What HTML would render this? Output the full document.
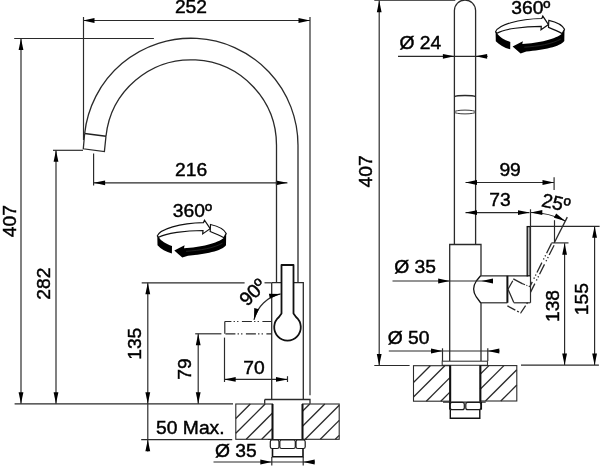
<!DOCTYPE html>
<html><head><meta charset="utf-8"><style>
html,body{margin:0;padding:0;background:#fff;}
svg{display:block;}
text{font-family:"Liberation Sans",sans-serif;fill:#000;stroke:#000;stroke-width:0.45px;}
svg{will-change:transform;}
</style></head><body>
<svg width="600" height="467" viewBox="0 0 600 467">
<rect width="600" height="467" fill="#fff"/>
<line x1="83" y1="20.5" x2="310" y2="20.5" stroke="#2a2a2a" stroke-width="1.18"/>
<polygon points="83.00,20.50 94.50,18.10 94.50,22.90" fill="#000" stroke="none" stroke-width="1"/>
<polygon points="310.00,20.50 298.50,22.90 298.50,18.10" fill="#000" stroke="none" stroke-width="1"/>
<text id="t0" x="174.9" y="13.0" font-size="19.25" text-anchor="start" >252</text>
<line x1="83.5" y1="17" x2="83.5" y2="140" stroke="#2a2a2a" stroke-width="1.18"/>
<line x1="310" y1="17" x2="310" y2="395.3" stroke="#2a2a2a" stroke-width="1.18"/>
<line x1="21" y1="38.5" x2="21" y2="403.8" stroke="#2a2a2a" stroke-width="1.18"/>
<polygon points="21.00,38.50 23.40,50.00 18.60,50.00" fill="#000" stroke="none" stroke-width="1"/>
<polygon points="21.00,403.80 18.60,392.30 23.40,392.30" fill="#000" stroke="none" stroke-width="1"/>
<line x1="14.2" y1="38.5" x2="153.9" y2="38.5" stroke="#2a2a2a" stroke-width="1.18"/>
<line x1="14.6" y1="403.8" x2="233" y2="403.8" stroke="#2a2a2a" stroke-width="1.18"/>
<text id="t1" x="15.9" y="237.2" font-size="19.25" text-anchor="start" transform="rotate(-90 15.9 237.2)" >407</text>
<line x1="56" y1="150.3" x2="56" y2="403.8" stroke="#2a2a2a" stroke-width="1.18"/>
<polygon points="56.00,150.30 58.40,161.80 53.60,161.80" fill="#000" stroke="none" stroke-width="1"/>
<polygon points="56.00,403.80 53.60,392.30 58.40,392.30" fill="#000" stroke="none" stroke-width="1"/>
<line x1="53" y1="150.3" x2="83" y2="150.3" stroke="#2a2a2a" stroke-width="1.18"/>
<text id="t2" x="49.6" y="299.75" font-size="19.25" text-anchor="start" transform="rotate(-90 49.6 299.75)" >282</text>
<line x1="93.6" y1="182.8" x2="287.4" y2="182.8" stroke="#2a2a2a" stroke-width="1.18"/>
<polygon points="93.60,182.80 105.10,180.40 105.10,185.20" fill="#000" stroke="none" stroke-width="1"/>
<polygon points="287.40,182.80 275.90,185.20 275.90,180.40" fill="#000" stroke="none" stroke-width="1"/>
<line x1="93.6" y1="153.5" x2="93.6" y2="185.5" stroke="#2a2a2a" stroke-width="1.18"/>
<text id="t3" x="175.1" y="175.85" font-size="19.25" text-anchor="start" >216</text>
<line x1="147.8" y1="282.8" x2="147.8" y2="451.5" stroke="#2a2a2a" stroke-width="1.18"/>
<polygon points="147.80,282.80 150.20,294.30 145.40,294.30" fill="#000" stroke="none" stroke-width="1"/>
<polygon points="147.80,403.80 145.40,392.30 150.20,392.30" fill="#000" stroke="none" stroke-width="1"/>
<polygon points="147.80,439.80 150.20,451.30 145.40,451.30" fill="#000" stroke="none" stroke-width="1"/>
<line x1="141.7" y1="282.8" x2="244.6" y2="282.8" stroke="#2a2a2a" stroke-width="1.18"/>
<line x1="264.5" y1="282.8" x2="271.6" y2="282.8" stroke="#2a2a2a" stroke-width="1.18"/>
<text id="t4" x="140.75" y="359.8" font-size="19.25" text-anchor="start" transform="rotate(-90 140.75 359.8)" >135</text>
<line x1="198.2" y1="333.8" x2="198.2" y2="403.8" stroke="#2a2a2a" stroke-width="1.18"/>
<polygon points="198.20,333.80 200.60,345.30 195.80,345.30" fill="#000" stroke="none" stroke-width="1"/>
<polygon points="198.20,403.80 195.80,392.30 200.60,392.30" fill="#000" stroke="none" stroke-width="1"/>
<line x1="195.2" y1="333.8" x2="221.4" y2="333.8" stroke="#2a2a2a" stroke-width="1.18"/>
<text id="t5" x="191.45" y="379.65" font-size="19.25" text-anchor="start" transform="rotate(-90 191.45 379.65)" >79</text>
<line x1="224.2" y1="379.4" x2="287.5" y2="379.4" stroke="#2a2a2a" stroke-width="1.18"/>
<polygon points="224.20,379.40 235.70,377.00 235.70,381.80" fill="#000" stroke="none" stroke-width="1"/>
<polygon points="287.50,379.40 276.00,381.80 276.00,377.00" fill="#000" stroke="none" stroke-width="1"/>
<line x1="224.5" y1="337.6" x2="224.5" y2="382" stroke="#2a2a2a" stroke-width="1.18"/>
<line x1="287.5" y1="376.2" x2="287.5" y2="382" stroke="#2a2a2a" stroke-width="1.18"/>
<text id="t6" x="243.35" y="373.6" font-size="19.25" text-anchor="start" >70</text>
<line x1="141.2" y1="439.6" x2="232.2" y2="439.6" stroke="#2a2a2a" stroke-width="1.18"/>
<text id="t7" x="156.1" y="433.7" font-size="19.25" text-anchor="start" >50 Max.</text>
<line x1="213.5" y1="462" x2="315" y2="462" stroke="#2a2a2a" stroke-width="1.18"/>
<line x1="271.8" y1="457" x2="271.8" y2="465.5" stroke="#2a2a2a" stroke-width="1.18"/>
<line x1="303.2" y1="457" x2="303.2" y2="465.5" stroke="#2a2a2a" stroke-width="1.18"/>
<polygon points="271.80,462.00 260.30,464.40 260.30,459.60" fill="#000" stroke="none" stroke-width="1"/>
<polygon points="303.20,462.00 314.70,459.60 314.70,464.40" fill="#000" stroke="none" stroke-width="1"/>
<text id="t8" x="214.9" y="457.2" font-size="19.25" text-anchor="start" >Ø 35</text>
<path d="M 84.65 133.50 A 107 107 0 0 1 298 145.3 L 298 282.5" fill="none" stroke="#2a2a2a" stroke-width="1.3" />
<path d="M 105.98 136.30 A 85.5 85.5 0 0 1 276.5 145.3 L 276.5 282.5" fill="none" stroke="#2a2a2a" stroke-width="1.3" />
<path d="M 84.65 133.50 L 83.3 148.8 L 104.4 151.6 L 105.98 136.30" fill="none" stroke="#2a2a2a" stroke-width="1.3" />
<line x1="84.65264460269827" y1="133.5" x2="105.97500367538967" y2="136.3" stroke="#222" stroke-width="1.4"/>
<path d="M 271.7 282.7 L 303.3 282.7 L 303.3 399.3" fill="none" stroke="#2a2a2a" stroke-width="1.3" />
<line x1="271.7" y1="282.7" x2="271.7" y2="399.3" stroke="#2a2a2a" stroke-width="1.3"/>
<path d="M 264.7 399.5 L 310 399.5 L 310 403.8 M 264.7 399.5 L 264.7 403.8" fill="none" stroke="#2a2a2a" stroke-width="1.3" />
<path d="M 281.5 313.5 L 281.5 265 L 293.5 265 L 293.5 313.5 L 296 317 A 13.3 13.3 0 1 1 279 317 Z" fill="#fff" stroke="#111" stroke-width="1.8" stroke-linejoin="round"/>
<line x1="224.8" y1="321.5" x2="271.6" y2="321.5" stroke="#2a2a2a" stroke-width="1.18" stroke-dasharray="10,2.2,1.3,2.2,1.3,3.5" stroke-dashoffset="3.4"/>
<line x1="224.8" y1="333.8" x2="271.6" y2="333.8" stroke="#2a2a2a" stroke-width="1.18" stroke-dasharray="10,2.2,1.3,2.2,1.3,3.5" stroke-dashoffset="19.9"/>
<line x1="224.8" y1="321.5" x2="224.8" y2="333.8" stroke="#2a2a2a" stroke-width="1.18"/>
<path d="M 280.64 293.89 A 34.4 34.4 0 0 0 253.98 319.86" fill="none" stroke="#2a2a2a" stroke-width="1.18" />
<polygon points="280.64,293.89 269.85,298.54 268.89,293.83" fill="#000" stroke="none" stroke-width="1"/>
<polygon points="253.98,319.86 254.23,308.12 258.91,309.20" fill="#000" stroke="none" stroke-width="1"/>
<text id="t9" x="257.3" y="296.9" font-size="19.25" text-anchor="middle" transform="rotate(-45 257.3 296.9)" >90º</text>
<rect x="235.8" y="404" width="36.69999999999999" height="35.30000000000001" fill="none" stroke="#2a2a2a" stroke-width="1.1"/>
<line x1="235.8" y1="418.49999999999994" x2="250.29999999999995" y2="404" stroke="#2a2a2a" stroke-width="1.3"/>
<line x1="235.8" y1="433.3" x2="265.1" y2="404" stroke="#2a2a2a" stroke-width="1.3"/>
<line x1="246.2" y1="439.3" x2="272.5" y2="413.0" stroke="#2a2a2a" stroke-width="1.3"/>
<line x1="261.7" y1="439.3" x2="272.5" y2="428.5" stroke="#2a2a2a" stroke-width="1.3"/>
<rect x="302.5" y="404" width="36.69999999999999" height="35.30000000000001" fill="none" stroke="#2a2a2a" stroke-width="1.1"/>
<line x1="302.5" y1="411.20000000000005" x2="309.70000000000005" y2="404" stroke="#2a2a2a" stroke-width="1.3"/>
<line x1="302.5" y1="426.29999999999995" x2="324.79999999999995" y2="404" stroke="#2a2a2a" stroke-width="1.3"/>
<line x1="305.2" y1="439.3" x2="339.2" y2="405.3" stroke="#2a2a2a" stroke-width="1.3"/>
<line x1="320.3" y1="439.3" x2="339.2" y2="420.40000000000003" stroke="#2a2a2a" stroke-width="1.3"/>
<line x1="335.3" y1="439.3" x2="339.2" y2="435.40000000000003" stroke="#2a2a2a" stroke-width="1.3"/>
<line x1="272.5" y1="404" x2="272.5" y2="439.5" stroke="#111" stroke-width="2"/>
<line x1="302.5" y1="404" x2="302.5" y2="439.5" stroke="#111" stroke-width="2"/>
<line x1="268" y1="439.5" x2="307" y2="439.5" stroke="#2a2a2a" stroke-width="1.2"/>
<rect x="270.3" y="440" width="8.7" height="8.5" rx="1.8" fill="#fff" stroke="#1a1a1a" stroke-width="1.2"/>
<rect x="279.8" y="440" width="15.5" height="8.5" rx="1.8" fill="#fff" stroke="#1a1a1a" stroke-width="1.2"/>
<rect x="296" y="440" width="9.2" height="8.5" rx="1.8" fill="#fff" stroke="#1a1a1a" stroke-width="1.2"/>
<path d="M 272.5 448.5 L 272.5 456.8 L 303 456.8 L 303 448.5" fill="none" stroke="#111" stroke-width="1.6" />
<g transform="translate(0 0)"><path d="M 157.3 235.9 C 160 229 180 223 203.5 222.6 L 204.5 220.2 L 210.2 228.7 L 202.7 233.9 L 203 230.5 C 185 230.6 166 233 158.7 237.3 Z" fill="#fff" stroke="#111" stroke-width="1.2"/><path d="M 210.5 224.5 C 217 226 224 229 226.2 233.4 L 223.9 237.7 C 219 235 214 233 210.2 231.5 Z" fill="#fff" stroke="#111" stroke-width="1.2"/><path d="M 226.2 233.4 L 226 245.2 C 222 251 205 254 188 255.7 L 182.3 257.6 L 174.3 250.5 L 184.6 245.3 L 184 248.2 C 200 247.5 218 243 223.9 237.7 Z" fill="#000"/><path d="M 157.3 235.9 L 157.5 245.3 C 161 249 166 252 171.9 253.4 L 172 246 C 166 244 161 241 158.7 237.3 Z" fill="#000"/><path d="M 186 251.3 C 200 250.5 214 248 222.5 243.2" fill="none" stroke="#333" stroke-width="0.7"/></g>
<text id="t10" x="172.8" y="217.0" font-size="19.25" text-anchor="start" >360º</text>
<line x1="374.3" y1="0.5" x2="455.3" y2="0.5" stroke="#555" stroke-width="1.18"/>
<line x1="379.2" y1="0.5" x2="379.2" y2="365.5" stroke="#2a2a2a" stroke-width="1.18"/>
<polygon points="379.20,0.80 381.60,12.30 376.80,12.30" fill="#000" stroke="none" stroke-width="1"/>
<polygon points="379.20,365.50 376.80,354.00 381.60,354.00" fill="#000" stroke="none" stroke-width="1"/>
<line x1="374.3" y1="365.5" x2="409.6" y2="365.5" stroke="#2a2a2a" stroke-width="1.18"/>
<text id="t11" x="372.3" y="187.5" font-size="19.25" text-anchor="start" transform="rotate(-90 372.3 187.5)" >407</text>
<path d="M 454.4 244.5 L 454.4 10.6 A 10.6 10.6 0 0 1 475.6 10.6 L 475.6 244.5" fill="none" stroke="#2a2a2a" stroke-width="1.3" />
<path d="M 454.4 96.6 C 457 95.1, 473 95.1, 475.6 96.6" fill="none" stroke="#2a2a2a" stroke-width="1.3" />
<ellipse cx="465" cy="112" rx="10.6" ry="1.9" fill="none" stroke="#3a3a3a" stroke-width="1"/>
<path d="M 449.7 361 L 449.7 244.5 L 481 244.5 L 481 275.5" fill="none" stroke="#2a2a2a" stroke-width="1.3" />
<path d="M 481 302.9 L 481 361" fill="none" stroke="#2a2a2a" stroke-width="1.3" />
<path d="M 480.8 275.5 L 476.3 281 Q 471 289 476.3 297 L 480.8 303" fill="none" stroke="#111" stroke-width="1.3" />
<line x1="481" y1="275.8" x2="528" y2="275.8" stroke="#2a2a2a" stroke-width="1.2"/>
<line x1="481" y1="302.8" x2="507.4" y2="302.8" stroke="#2a2a2a" stroke-width="1.2"/>
<line x1="513.8" y1="302.8" x2="530.3" y2="302.8" stroke="#2a2a2a" stroke-width="1.2"/>
<line x1="507.4" y1="275.8" x2="507.4" y2="302.8" stroke="#111" stroke-width="2"/>
<rect x="527.2" y="226.6" width="3.1" height="49.2" fill="#bbb" stroke="#111" stroke-width="1.3"/>
<line x1="530.5" y1="209.3" x2="530.5" y2="302.8" stroke="#2a2a2a" stroke-width="1.2"/>
<line x1="530.5" y1="226.4" x2="599.6" y2="226.4" stroke="#2a2a2a" stroke-width="1.18"/>
<path d="M 522.7 283.8 L 513.3 278.9 M 512.8 280.8 L 508 289.2 L 513.8 302.5" fill="none" stroke="#2a2a2a" stroke-width="1.3" />
<path d="M 522.7 283.8 L 530 286.8" fill="none" stroke="#2a2a2a" stroke-width="1.18" stroke-dasharray="2.5,1.5,1,1.5"/>
<path d="M 507.4 305.9 L 520.7 313 L 527.6 302.5" fill="none" stroke="#2a2a2a" stroke-width="1.3" stroke-dasharray="9,2,2,2"/>
<line x1="567.3" y1="217.1" x2="554.3" y2="242.7" stroke="#2a2a2a" stroke-width="1.3"/>
<line x1="551.5" y1="243.4" x2="529.9" y2="286.6" stroke="#2a2a2a" stroke-width="1.3" stroke-dasharray="11,2.2,1.3,2.2,1.3,3.5" stroke-dashoffset="0"/>
<line x1="555" y1="243.4" x2="530.6" y2="292.1" stroke="#2a2a2a" stroke-width="1.3" stroke-dasharray="11,2.2,1.3,2.2,1.3,3.5" stroke-dashoffset="-2"/>
<line x1="554.5" y1="220.2" x2="554.5" y2="242.8" stroke="#2a2a2a" stroke-width="1.18"/>
<line x1="551.4" y1="242.9" x2="568.5" y2="242.9" stroke="#2a2a2a" stroke-width="1.18"/>
<path d="M 530.8 212.5 A 75 75 0 0 1 565.25 220.93" fill="none" stroke="#2a2a2a" stroke-width="1.18" />
<polygon points="530.80,212.50 542.30,210.10 542.30,214.90" fill="#000" stroke="none" stroke-width="1"/>
<polygon points="565.25,220.93 553.94,217.73 556.17,213.48" fill="#000" stroke="none" stroke-width="1"/>
<text id="t12" x="554.7" y="209.2" font-size="19.25" text-anchor="middle" transform="rotate(12 554.7 209.2)" >25º</text>
<line x1="398" y1="56.3" x2="487.6" y2="56.3" stroke="#2a2a2a" stroke-width="1.18"/>
<polygon points="454.40,56.30 442.90,58.70 442.90,53.90" fill="#000" stroke="none" stroke-width="1"/>
<polygon points="475.60,56.30 487.10,53.90 487.10,58.70" fill="#000" stroke="none" stroke-width="1"/>
<text id="t13" x="399.45" y="48.75" font-size="19.25" text-anchor="start" >Ø 24</text>
<line x1="392.5" y1="281" x2="492.8" y2="281" stroke="#2a2a2a" stroke-width="1.18"/>
<polygon points="449.70,281.00 438.20,283.40 438.20,278.60" fill="#000" stroke="none" stroke-width="1"/>
<polygon points="481.50,281.00 493.00,278.60 493.00,283.40" fill="#000" stroke="none" stroke-width="1"/>
<text id="t14" x="394.3" y="273.25" font-size="19.25" text-anchor="start" >Ø 35</text>
<line x1="388.8" y1="351" x2="499.6" y2="351" stroke="#2a2a2a" stroke-width="1.18"/>
<polygon points="442.50,351.00 431.00,353.40 431.00,348.60" fill="#000" stroke="none" stroke-width="1"/>
<polygon points="487.80,351.00 499.30,348.60 499.30,353.40" fill="#000" stroke="none" stroke-width="1"/>
<line x1="442.5" y1="348.3" x2="442.5" y2="361" stroke="#2a2a2a" stroke-width="1.18"/>
<line x1="487.8" y1="348.3" x2="487.8" y2="361" stroke="#2a2a2a" stroke-width="1.18"/>
<text id="t15" x="387.8" y="344.05" font-size="19.25" text-anchor="start" >Ø 50</text>
<rect x="442.2" y="361.2" width="45.3" height="4.1" fill="none" stroke="#3a3a3a" stroke-width="1.1"/>
<rect x="413.5" y="365.7" width="36.39999999999998" height="35.5" fill="none" stroke="#2a2a2a" stroke-width="1.1"/>
<line x1="413.5" y1="382.5" x2="430.3" y2="365.7" stroke="#2a2a2a" stroke-width="1.3"/>
<line x1="413.5" y1="397.0" x2="444.8" y2="365.7" stroke="#2a2a2a" stroke-width="1.3"/>
<line x1="426.3" y1="401.2" x2="449.9" y2="377.6" stroke="#2a2a2a" stroke-width="1.3"/>
<line x1="440.8" y1="401.2" x2="449.9" y2="392.1" stroke="#2a2a2a" stroke-width="1.3"/>
<rect x="480.2" y="365.6" width="36.599999999999966" height="35.39999999999998" fill="none" stroke="#2a2a2a" stroke-width="1.1"/>
<line x1="480.2" y1="374.3" x2="488.9" y2="365.6" stroke="#2a2a2a" stroke-width="1.3"/>
<line x1="480.2" y1="389.3" x2="503.9" y2="365.6" stroke="#2a2a2a" stroke-width="1.3"/>
<line x1="485.5" y1="401" x2="516.8" y2="369.70000000000005" stroke="#2a2a2a" stroke-width="1.3"/>
<line x1="500.79999999999995" y1="401" x2="516.8" y2="385.0" stroke="#2a2a2a" stroke-width="1.3"/>
<line x1="450.2" y1="365.3" x2="450.2" y2="402.2" stroke="#111" stroke-width="2"/>
<line x1="480.4" y1="365.3" x2="480.4" y2="402.2" stroke="#111" stroke-width="2"/>
<line x1="443" y1="402.2" x2="485.7" y2="402.2" stroke="#2a2a2a" stroke-width="1.2"/>
<path d="M 450.3 409.7 L 450.3 418.3 L 479.8 418.3 L 479.8 409.7" fill="none" stroke="#111" stroke-width="1.4" />
<rect x="450.2" y="402.4" width="14.1" height="7.3" rx="2" fill="#fff" stroke="#1a1a1a" stroke-width="1.2"/>
<rect x="465.8" y="402.4" width="15.1" height="7.3" rx="2" fill="#fff" stroke="#1a1a1a" stroke-width="1.2"/>
<line x1="449.8" y1="402" x2="449.8" y2="409.7" stroke="#111" stroke-width="1.5"/>
<line x1="481.3" y1="402" x2="481.3" y2="409.7" stroke="#111" stroke-width="1.5"/>
<line x1="465.5" y1="182.5" x2="554" y2="182.5" stroke="#2a2a2a" stroke-width="1.18"/>
<polygon points="465.50,182.50 477.00,180.10 477.00,184.90" fill="#000" stroke="none" stroke-width="1"/>
<polygon points="554.00,182.50 542.50,184.90 542.50,180.10" fill="#000" stroke="none" stroke-width="1"/>
<line x1="554.1" y1="177.3" x2="554.1" y2="189.9" stroke="#2a2a2a" stroke-width="1.18"/>
<text id="t16" x="499.4" y="175.75" font-size="19.25" text-anchor="start" >99</text>
<line x1="465.5" y1="212.6" x2="529.5" y2="212.6" stroke="#2a2a2a" stroke-width="1.18"/>
<polygon points="465.50,212.60 477.00,210.20 477.00,215.00" fill="#000" stroke="none" stroke-width="1"/>
<polygon points="529.50,212.60 518.00,215.00 518.00,210.20" fill="#000" stroke="none" stroke-width="1"/>
<text id="t17" x="489.3" y="205.55" font-size="19.25" text-anchor="start" >73</text>
<line x1="594.6" y1="226.3" x2="594.6" y2="364.9" stroke="#2a2a2a" stroke-width="1.18"/>
<polygon points="594.60,226.30 597.00,237.80 592.20,237.80" fill="#000" stroke="none" stroke-width="1"/>
<polygon points="594.60,364.90 592.20,353.40 597.00,353.40" fill="#000" stroke="none" stroke-width="1"/>
<line x1="564.6" y1="243.2" x2="564.6" y2="364.9" stroke="#2a2a2a" stroke-width="1.18"/>
<polygon points="564.60,243.20 567.00,254.70 562.20,254.70" fill="#000" stroke="none" stroke-width="1"/>
<polygon points="564.60,364.90 562.20,353.40 567.00,353.40" fill="#000" stroke="none" stroke-width="1"/>
<line x1="521" y1="365.2" x2="598.9" y2="365.2" stroke="#2a2a2a" stroke-width="1.18"/>
<text id="t18" x="559.35" y="322.05" font-size="19.25" text-anchor="start" transform="rotate(-90 559.35 322.05)" >138</text>
<text id="t19" x="587.8" y="315.15" font-size="19.25" text-anchor="start" transform="rotate(-90 587.8 315.15)" >155</text>
<g transform="translate(338.3 -204.1)"><path d="M 157.3 235.9 C 160 229 180 223 203.5 222.6 L 204.5 220.2 L 210.2 228.7 L 202.7 233.9 L 203 230.5 C 185 230.6 166 233 158.7 237.3 Z" fill="#fff" stroke="#111" stroke-width="1.2"/><path d="M 210.5 224.5 C 217 226 224 229 226.2 233.4 L 223.9 237.7 C 219 235 214 233 210.2 231.5 Z" fill="#fff" stroke="#111" stroke-width="1.2"/><path d="M 226.2 233.4 L 226 245.2 C 222 251 205 254 188 255.7 L 182.3 257.6 L 174.3 250.5 L 184.6 245.3 L 184 248.2 C 200 247.5 218 243 223.9 237.7 Z" fill="#000"/><path d="M 157.3 235.9 L 157.5 245.3 C 161 249 166 252 171.9 253.4 L 172 246 C 166 244 161 241 158.7 237.3 Z" fill="#000"/><path d="M 186 251.3 C 200 250.5 214 248 222.5 243.2" fill="none" stroke="#333" stroke-width="0.7"/></g>
<text id="t20" x="511.25" y="13.5" font-size="19.25" text-anchor="start" >360º</text>
</svg></body></html>
